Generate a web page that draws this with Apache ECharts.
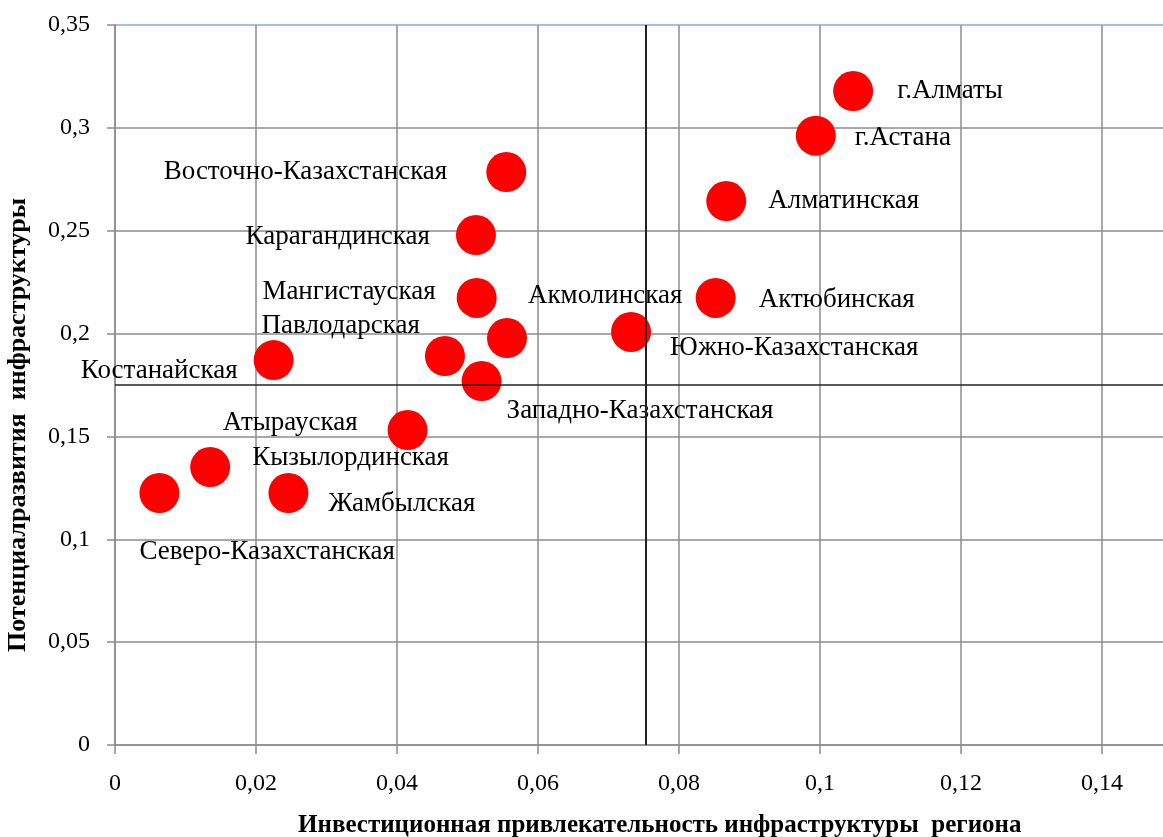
<!DOCTYPE html>
<html>
<head>
<meta charset="utf-8">
<script src="https://cdn.jsdelivr.net/npm/echarts@6/dist/echarts.min.js"></script>
<style>
  html, body { margin: 0; padding: 0; background: #fff; }
  #chart { width: 1163px; height: 837px; }
</style>
</head>
<body>
<div id="chart"></div>
<script>
// регионы и значения
const regions = [
  'г.Алматы', 'г.Астана', 'Алматинская', 'Восточно-Казахстанская',
  'Карагандинская', 'Мангистауская', 'Акмолинская', 'Актюбинская',
  'Павлодарская', 'Южно-Казахстанская', 'Костанайская', 'Западно-Казахстанская',
  'Атырауская', 'Кызылординская', 'Жамбылская', 'Северо-Казахстанская'
];
const investment = [
  0.1047, 0.0994, 0.0867, 0.0555,
  0.0512, 0.0513, 0.0556, 0.0852,
  0.0468, 0.0732, 0.0225, 0.0520,
  0.0415, 0.0135, 0.0246, 0.0063
];
const potential = [
  0.3179, 0.2962, 0.2644, 0.2785,
  0.2479, 0.2173, 0.1978, 0.2173,
  0.1891, 0.2008, 0.1871, 0.1769,
  0.1531, 0.1351, 0.1225, 0.1225
];
const xTicks = ['0', '0,02', '0,04', '0,06', '0,08', '0,1', '0,12', '0,14', ''];
const yTicks = ['0', '0,05', '0,1', '0,15', '0,2', '0,25', '0,3', '0,35'];
const meanX = 0.0753;
const meanY = 0.175;

// смещения подписей [dx, dy, align]
const labelOffsets = [
  [44, 0, 'left'], [39, 2, 'left'], [42, 0, 'left'], [-59, 0, 'right'],
  [-46, 2, 'right'], [-41, -6, 'right'], [21, -42, 'left'], [43, 2, 'left'],
  [-25, -30, 'right'], [39, 16, 'left'], [-36, 11, 'right'], [25, 30, 'left'],
  [-50, -7, 'right'], [42, -9, 'left'], [40, 11, 'left'], [-20, 59, 'left']
];

const chart = echarts.init(document.getElementById('chart'), null, { renderer: 'canvas' });
const font = '"Liberation Serif", "Times New Roman", serif';
const gridColor = '#8c8c8c';

const option = {
  animation: false,
  grid: { left: 115, top: 25, width: 1057.5, height: 720, outerBoundsMode: 'none' },
  xAxis: {
    type: 'value',
    min: 0,
    max: 0.15,
    interval: 0.02,
    name: 'Инвестиционная привлекательность инфраструктуры  региона',
    nameLocation: 'middle',
    nameGap: 68,
    nameTextStyle: { fontFamily: font, fontSize: 25, fontWeight: 'bold', color: '#000', padding: [0, 0, 0, 32] },
    axisLine: { lineStyle: { color: gridColor, width: 1.5 } },
    axisTick: { show: true, length: 9, lineStyle: { color: gridColor, width: 1.5 } },
    axisLabel: {
      margin: 27,
      fontFamily: font,
      fontSize: 24,
      color: '#000',
      showMaxLabel: false,
      formatter: (v) => xTicks[Math.round(v / 0.02)] ?? ''
    },
    splitLine: { show: true, lineStyle: { color: gridColor, width: 1.5 } }
  },
  yAxis: {
    type: 'value',
    min: 0,
    max: 0.35,
    interval: 0.05,
    name: 'Потенциалразвития  инфраструктуры',
    nameLocation: 'middle',
    nameGap: 84,
    nameTextStyle: { fontFamily: font, fontSize: 26, fontWeight: 'bold', color: '#000', padding: [0, 80, 0, 0] },
    axisLine: { show: true, lineStyle: { color: gridColor, width: 1.5 } },
    axisTick: { show: true, length: 8, lineStyle: { color: gridColor, width: 1.5 } },
    axisLabel: {
      margin: 25,
      fontFamily: font,
      fontSize: 24,
      color: '#000',
      formatter: (v) => yTicks[Math.round(v / 0.05)] ?? ''
    },
    splitLine: {
      show: true,
      lineStyle: {
        color: [gridColor, gridColor, gridColor, gridColor, gridColor, gridColor, gridColor, '#86acd8'],
        width: 1.5
      }
    }
  },
  series: [
    {
      type: 'scatter',
      symbolSize: 40,
      itemStyle: { color: '#ff0000', opacity: 1 },
      data: regions.map((name, i) => ({
        name,
        value: [investment[i], potential[i]],
        label: {
          show: true,
          position: 'inside',
          offset: [labelOffsets[i][0], labelOffsets[i][1]],
          align: labelOffsets[i][2],
          verticalAlign: 'middle',
          formatter: '{b}',
          fontFamily: font,
          fontSize: 27,
          color: '#000'
        }
      })),
      z: 3,
      markLine: {
        silent: true,
        symbol: 'none',
        precision: 4,
        label: { show: false },
        lineStyle: { color: '#222', type: 'solid', width: 2 },
        data: [
          { xAxis: meanX },
          { yAxis: meanY, lineStyle: { width: 1.5 } }
        ]
      }
    }
  ]
};

chart.setOption(option);
</script>
</body>
</html>
